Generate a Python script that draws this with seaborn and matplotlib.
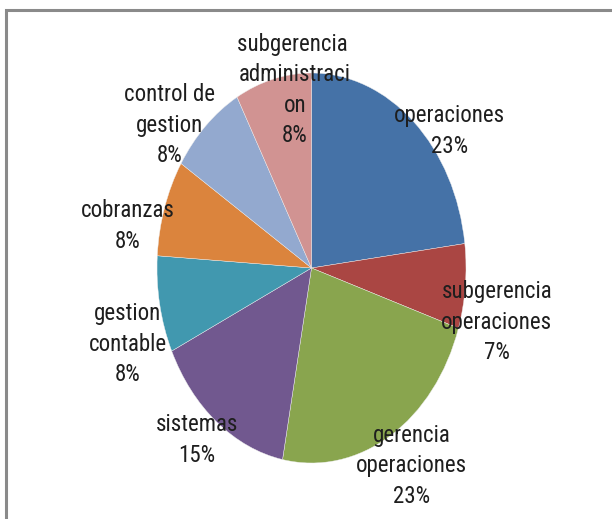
import textwrap
import matplotlib
matplotlib.use("Agg")
import matplotlib.pyplot as plt
from matplotlib.patches import Rectangle
from matplotlib import font_manager
import seaborn as sns

# Share of staff per area
areas = [
    "operaciones",
    "subgerencia operaciones",
    "gerencia operaciones",
    "sistemas",
    "gestion contable",
    "cobranzas",
    "control de gestion",
    "subgerencia administracion",
]
shares = [23, 7, 23, 15, 8, 8, 8, 8]

# Office-style chart palette
colors = sns.color_palette([
    "#4572A7", "#AA4643", "#89A54E", "#71588F",
    "#4198AF", "#DB843D", "#93A9CF", "#D19392",
])

# Where each label block sits, in pie units
label_pos = [
    (0.896, 0.703), (1.20, -0.277), (0.650, -1.015), (-0.741, -0.882),
    (-1.188, -0.390), (-1.188, 0.215), (-0.916, 0.733), (-0.107, 0.913),
]

sns.set_style("white")
installed = {f.name for f in font_manager.fontManager.ttflist}
narrow = [f for f in ("Liberation Sans Narrow", "Roboto Condensed",
                      "Open Sans Condensed", "Lato") if f in installed]
plt.rcParams["font.family"] = narrow + ["DejaVu Sans"]
condensed = bool(narrow) and narrow[0] != "Lato"

W, H = 612, 519
fig = plt.figure(figsize=(W / 100, H / 100), dpi=100)

# Chart-area frame (runs off the right and bottom edges)
fig.patches.append(Rectangle((6 / W, -0.1), 1.2, (H - 10) / H + 0.1,
                             transform=fig.transFigure, fill=False,
                             edgecolor="#8a8a8a", linewidth=2.2))

# Pie occupies an upright ellipse
ax = fig.add_axes([157 / W, (H - 463) / H, 309 / W, 390 / H])
wedges, _ = ax.pie(shares, colors=colors, startangle=90, counterclock=False,
                   radius=1, wedgeprops=dict(linewidth=0.3, edgecolor="#eeeeee"))
ax.set_aspect("auto")
ax.set_xlim(-1, 1)
ax.set_ylim(-1, 1)
ax.axis("off")

total = sum(shares)
for name, val, (x, y) in zip(areas, shares, label_pos):
    txt = "\n".join(textwrap.wrap(name, 12)) + f"\n{round(100 * val / total)}%"
    ax.text(x, y, txt, ha="center", va="center",
            fontsize=16.5 if condensed else 14.5,
            linespacing=1.42 if condensed else 1.55,
            color="#1e1e1e", clip_on=False)

fig.savefig("out.png", dpi=100)
